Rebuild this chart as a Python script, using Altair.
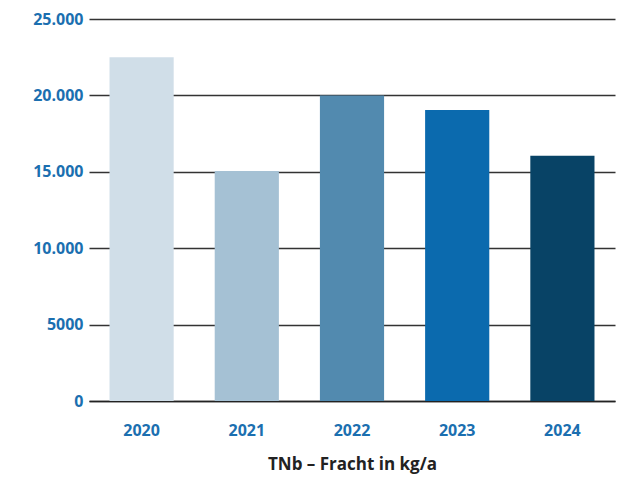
import altair as alt
import pandas as pd

years = ["2020", "2021", "2022", "2023", "2024"]
values = [22500, 15050, 20000, 19050, 16050]
colors = ["#d0dee8", "#a5c1d4", "#528aaf", "#0b6aae", "#084366"]
y_ticks = [0, 5000, 10000, 15000, 20000, 25000]

df = pd.DataFrame({"Jahr": years, "Wert": values})

label_blue = "#1b6fb0"
font = "Open Sans"

chart = alt.Chart(df).mark_bar().encode(
    x=alt.X("Jahr:N", sort=years,
            scale=alt.Scale(paddingInner=0.39, paddingOuter=0.195),
            axis=alt.Axis(title="TNb – Fracht in kg/a", labelAngle=0,
                          ticks=False, domain=True, domainColor="#222222",
                          domainWidth=1.5, labelPadding=21,
                          labelColor=label_blue, labelFont=font,
                          labelFontSize=16, labelFontWeight="bold",
                          titleFont=font, titleFontSize=17,
                          titleFontWeight="bold", titleColor="#222222",
                          titlePadding=18)),
    y=alt.Y("Wert:Q", scale=alt.Scale(domain=[0, 25000], nice=False),
            axis=alt.Axis(title=None, values=y_ticks, ticks=False, domain=False,
                          grid=True, gridColor="#333333", gridWidth=1.3,
                          labelPadding=6, labelColor=label_blue, labelFont=font,
                          labelFontSize=16, labelFontWeight="bold",
                          labelExpr="datum.value >= 10000 ? replace(format(datum.value, ','), ',', '.') : format(datum.value, 'd')")),
    color=alt.Color("Jahr:N", sort=years,
                    scale=alt.Scale(domain=years, range=colors), legend=None),
).properties(
    width=526, height=382,
    autosize=alt.AutoSizeParams(type="none"),
    padding={"left": 89, "top": 19, "right": 16, "bottom": 84},
).configure_view(stroke=None)

chart.save("out.html", embed_options={"renderer": "svg", "actions": False})
